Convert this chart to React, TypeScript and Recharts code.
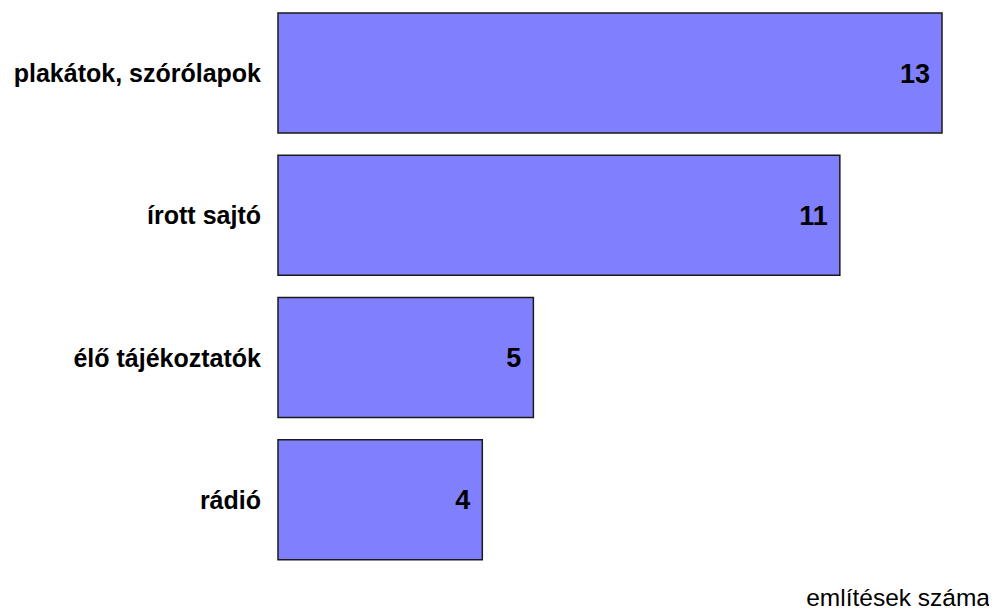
import React from "react";
import { BarChart, Bar, XAxis, YAxis, LabelList } from "recharts";

const categories = ["plakátok, szórólapok", "írott sajtó", "élő tájékoztatók", "rádió"];
const mentions = [13, 11, 5, 4];
const axisTitle = "említések száma";

const data = categories.map((name, i) => ({ name, value: mentions[i] }));

const font = "'Liberation Sans', Arial, sans-serif";

// title sits under the plot, flush to the right edge of the picture
const AxisTitle = () => (
  <text x={990} y={606} textAnchor="end" fill="#000" fontSize={24.5} fontFamily={font}>
    {axisTitle}
  </text>
);

const App = () => {
  return (
    <div style={{ marginTop: -8, marginLeft: -8, width: 997, height: 609, background: "#fff" }}>
      <BarChart
        width={997}
        height={609}
        data={data}
        layout="vertical"
        margin={{ top: 2, right: 55, left: 0, bottom: 0 }}
        barSize={120}
      >
        <XAxis
          type="number"
          domain={[0, 13]}
          height={38}
          tick={false}
          tickLine={false}
          axisLine={false}
          label={{ content: AxisTitle }}
        />
        <YAxis
          type="category"
          dataKey="name"
          width={278}
          tickSize={0}
          tickMargin={17}
          tickLine={false}
          axisLine={false}
          tick={{ fill: "#000", fontSize: 25, fontWeight: "bold", fontFamily: font }}
        />
        <Bar dataKey="value" fill="#8080FF" stroke="#1a1a1a" strokeWidth={1.5} isAnimationActive={false}>
          <LabelList
            dataKey="value"
            position="insideRight"
            offset={12}
            fill="#000"
            fontSize={27}
            fontWeight="bold"
            fontFamily={font}
          />
        </Bar>
      </BarChart>
    </div>
  );
};

export default App;
